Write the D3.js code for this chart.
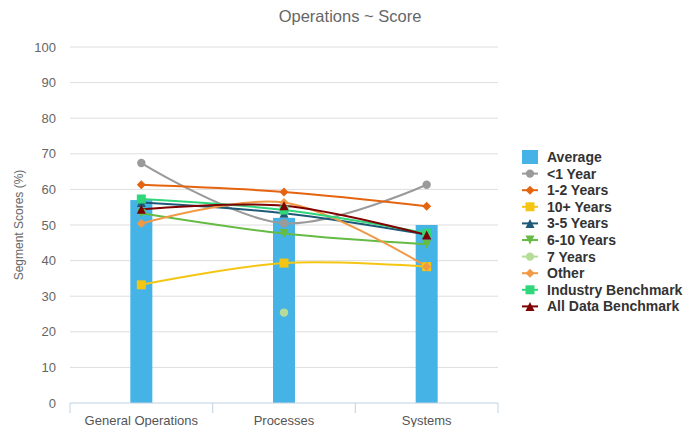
<!DOCTYPE html>
<html>
<head>
<meta charset="utf-8">
<script src="https://cdn.jsdelivr.net/npm/d3@7"></script>
<style>
  body { margin: 0; background: #fff; font-family: "Liberation Sans", Arial, sans-serif; }
  svg text { font-family: "Liberation Sans", Arial, sans-serif; }
</style>
</head>
<body>
<svg id="chart" width="696" height="427"></svg>
<script>
const categories = ['General Operations', 'Processes', 'Systems']
const average = [57, 52, 50]
const seriesNames = ['<1 Year', '1-2 Years', '10+ Years', '3-5 Years', '6-10 Years', '7 Years', 'Other', 'Industry Benchmark', 'All Data Benchmark']
const lessThan1 = [67.4, 50.5, 61.3]
const years1to2 = [61.3, 59.3, 55.3]
const years10plus = [33.2, 39.3, 38.3]
const years3to5 = [56.3, 53.3, 47.3]
const years6to10 = [53.3, 47.6, 44.6]
const years7 = [null, 25.4, null]
const other = [50.4, 56.3, 38.3]
const industry = [57.3, 54.2, 47.7]
const allData = [54.4, 55.4, 47.2]
const yTicks = [0, 10, 20, 30, 40, 50, 60, 70, 80, 90, 100]

const colors = ['#9a9a9a', '#e5640f', '#f4c613', '#1e5a78', '#66bb44', '#b5dd98', '#f19a45', '#2fd67a', '#7f0000']
const symbols = ['circle', 'diamond', 'square', 'triangle', 'triangle-down', 'circle', 'diamond', 'square', 'triangle']
const seriesValues = [lessThan1, years1to2, years10plus, years3to5, years6to10, years7, other, industry, allData]

const svg = d3.select('#chart')
const margin = { left: 70, right: 198, top: 47, bottom: 24 }
const W = 696, H = 427

const x = d3.scaleBand().domain(categories).range([margin.left, W - margin.right])
const y = d3.scaleLinear().domain([0, 100]).range([H - margin.bottom, margin.top])

// title
svg.append('text')
  .attr('x', 350).attr('y', 22)
  .attr('text-anchor', 'middle')
  .style('font-size', '16.5px')
  .style('fill', '#666')
  .text('Operations ~ Score')

// gridlines
svg.append('g')
  .selectAll('line')
  .data(yTicks.filter((d) => d > 0))
  .join('line')
  .attr('x1', margin.left).attr('x2', W - margin.right)
  .attr('y1', (d) => y(d)).attr('y2', (d) => y(d))
  .style('stroke', '#dedede')
  .style('stroke-width', 1)

// y axis labels
const yAxis = d3.axisLeft(y).tickValues(yTicks).tickSize(0).tickPadding(14)
svg.append('g')
  .attr('transform', `translate(${margin.left},0)`)
  .call(yAxis)
  .call((g) => g.select('.domain').remove())
  .selectAll('text')
  .style('font-size', '13px')
  .style('fill', '#666')

svg.append('text')
  .attr('transform', `translate(23,${(y(0) + y(100)) / 2}) rotate(-90)`)
  .attr('text-anchor', 'middle')
  .style('font-size', '12px')
  .style('fill', '#666')
  .text('Segment Scores (%)')

// bars
const barW = 22
svg.append('g')
  .selectAll('rect')
  .data(average)
  .join('rect')
  .attr('x', (d, i) => x(categories[i]) + x.bandwidth() / 2 - barW / 2)
  .attr('width', barW)
  .attr('y', (d) => y(d))
  .attr('height', (d) => y(0) - y(d))
  .style('fill', '#45b3e5')

// x axis
const xAxisG = svg.append('g').attr('transform', `translate(0,${y(0)})`)
xAxisG.append('line')
  .attr('x1', margin.left).attr('x2', W - margin.right)
  .style('stroke', '#c0d0e0')
xAxisG.selectAll('.tick-line')
  .data(x.domain().map((c) => x(c)).concat([x(categories[categories.length - 1]) + x.bandwidth()]))
  .join('line')
  .attr('x1', (d) => d).attr('x2', (d) => d)
  .attr('y1', 0).attr('y2', 10)
  .style('stroke', '#c0d0e0')
xAxisG.selectAll('text')
  .data(categories)
  .join('text')
  .attr('x', (d) => x(d) + x.bandwidth() / 2)
  .attr('y', 22)
  .attr('text-anchor', 'middle')
  .style('font-size', '13px')
  .style('fill', '#555')
  .text((d) => d)

// lines
const cx = (i) => x(categories[i]) + x.bandwidth() / 2
const line = d3.line()
  .defined((d) => d != null)
  .x((d, i) => cx(i))
  .y((d) => y(d))
  .curve(d3.curveCatmullRom.alpha(0.5))

// highcharts-like marker shapes, radius 4
const markerPath = (s) => {
  const r = 4.5
  if (s === 'circle') return d3.symbol().type(d3.symbolCircle).size(Math.PI * 4.2 * 4.2)()
  if (s === 'square') return `M${-r},${-r}H${r}V${r}H${-r}Z`
  if (s === 'diamond') return `M0,${-r}L${r},0L0,${r}L${-r},0Z`
  if (s === 'triangle') return `M0,${-r}L${r},${r}L${-r},${r}Z`
  return `M${-r},${-r}L${r},${-r}L0,${r}Z`
}

const drawSymbol = (g, s, color, px, py) => {
  g.append('path')
    .attr('d', markerPath(s))
    .attr('transform', `translate(${px},${py})`)
    .style('fill', color)
}

const linesG = svg.append('g')
seriesValues.forEach((vals, k) => {
  linesG.append('path')
    .datum(vals)
    .attr('d', line)
    .style('fill', 'none')
    .style('stroke', colors[k])
    .style('stroke-width', 2)
})
seriesValues.forEach((vals, k) => {
  vals.forEach((v, i) => {
    if (v == null) return
    drawSymbol(linesG, symbols[k], colors[k], cx(i), y(v))
  })
})

// legend
const legend = svg.append('g').attr('transform', 'translate(522,157)')
const rowH = 16.6
legend.append('rect')
  .attr('x', 0).attr('y', -7).attr('width', 16).attr('height', 14)
  .style('fill', '#45b3e5')
legend.append('text')
  .attr('x', 25).attr('y', 5)
  .style('font-size', '14px').style('font-weight', 'bold').style('fill', '#333')
  .text('Average')
seriesNames.forEach((name, k) => {
  const row = legend.append('g').attr('transform', `translate(0,${(k + 1) * rowH})`)
  row.append('line')
    .attr('x1', 0).attr('x2', 16)
    .style('stroke', colors[k]).style('stroke-width', 2)
  drawSymbol(row, symbols[k], colors[k], 8, 0)
  row.append('text')
    .attr('x', 25).attr('y', 5)
    .style('font-size', '14px').style('font-weight', 'bold').style('fill', '#333')
    .text(name)
})
</script>
</body>
</html>
